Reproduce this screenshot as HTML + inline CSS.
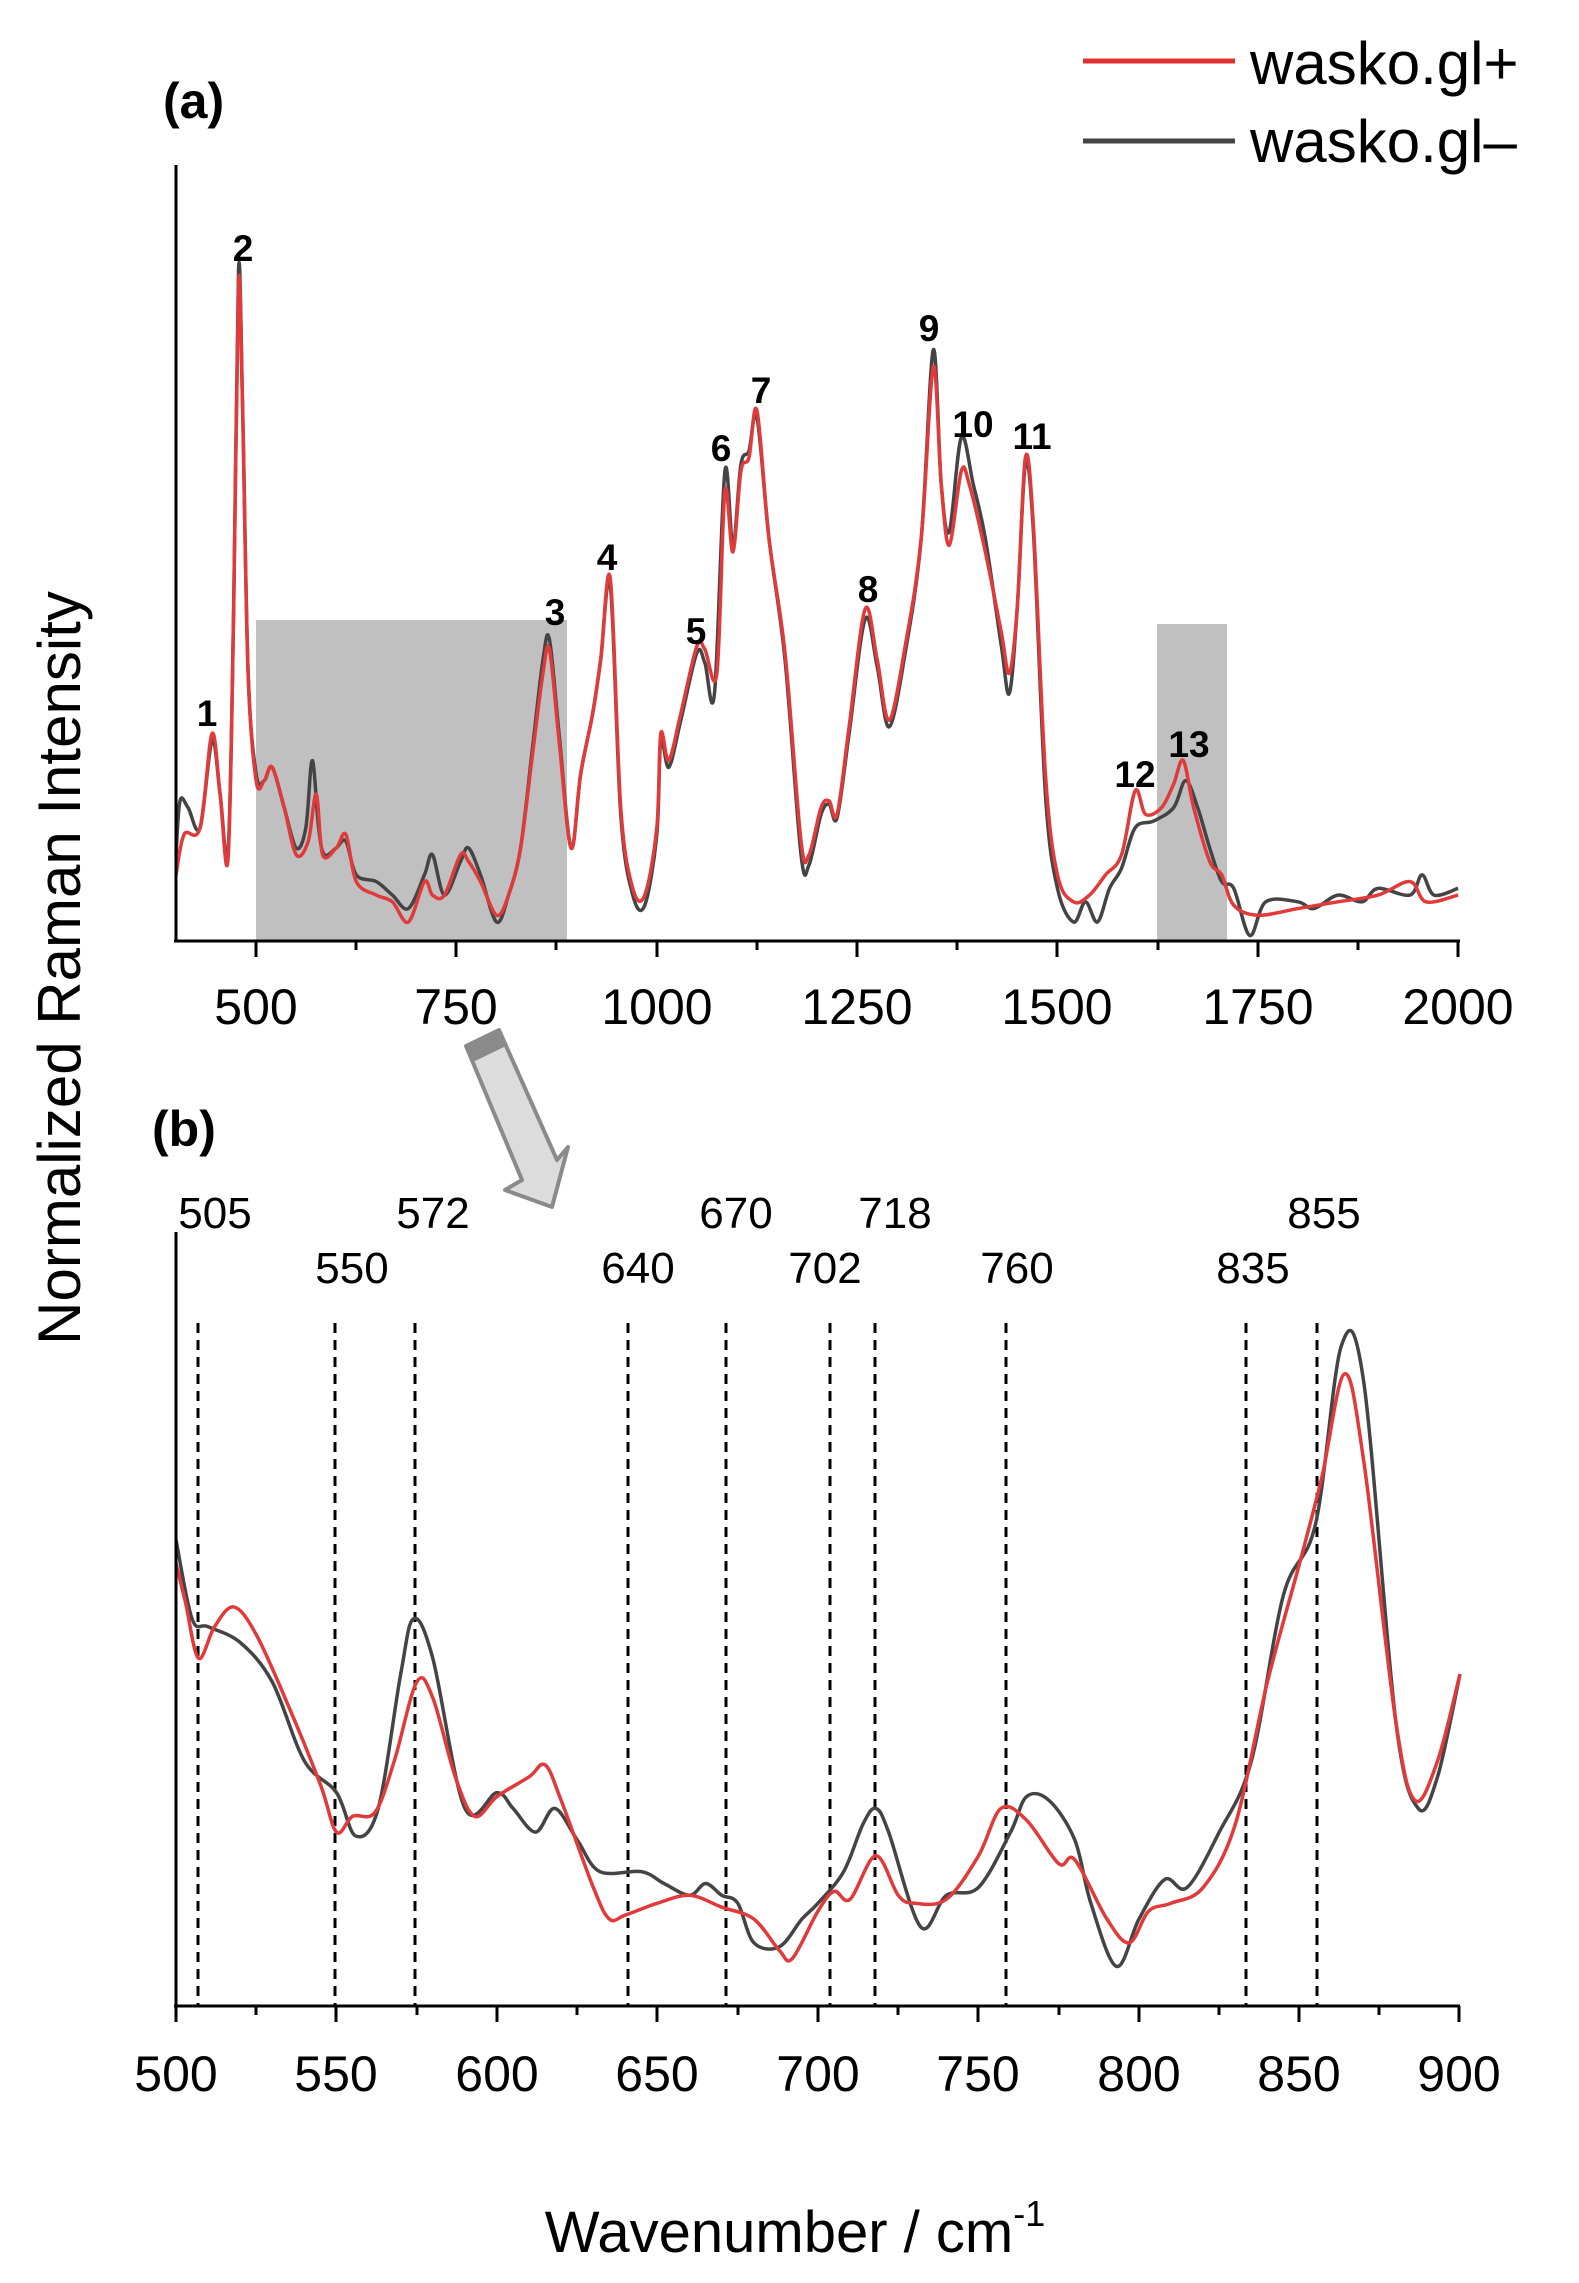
<!DOCTYPE html>
<html><head><meta charset="utf-8"><style>
html,body{margin:0;padding:0;background:#fff}
svg{display:block}
text{font-family:"Liberation Sans",sans-serif;fill:#000}
</style></head><body>
<svg id="S" width="1579" height="2283" viewBox="0 0 1579 2283" xmlns="http://www.w3.org/2000/svg">
<line x1="1083" y1="61" x2="1235" y2="61" stroke="#e03030" stroke-width="5"/>
<text x="1250" y="84" font-size="60">wasko.gl+</text>
<line x1="1083" y1="141" x2="1235" y2="141" stroke="#444" stroke-width="5"/>
<text x="1250" y="162" font-size="60">wasko.gl–</text>
<text x="163" y="118" font-size="50" font-weight="bold">(a)</text>
<text transform="translate(80,968) rotate(-90)" text-anchor="middle" font-size="60">Normalized Raman Intensity</text>

<rect x="256" y="620" width="311" height="320" fill="#c0c0c0"/>
<rect x="1157" y="624" width="70" height="316" fill="#c0c0c0"/>
<g transform="matrix(0.8013 0 0 0.673 -144.5 0)" fill="none" stroke-linejoin="round">
<polyline class="c" vector-effect="non-scaling-stroke" stroke="#444" stroke-width="3.5" points="400,1270 405,1190 415,1200 430,1230 445,1100 455,1180 465,1265 472,900 478,400 483,600 490,1000 500,1150 510,1160 520,1140 535,1200 550,1260 562,1230 570,1130 578,1230 585,1270 600,1260 612,1250 625,1300 650,1310 670,1330 690,1350 710,1300 720,1270 735,1330 755,1280 765,1260 780,1300 800,1370 815,1330 830,1260 845,1110 858,980 866,950 878,1090 893,1260 905,1150 920,1060 930,980 942,870 955,1210 970,1330 985,1345 1000,1240 1005,1100 1015,1140 1030,1070 1050,970 1060,985 1072,1030 1085,700 1095,810 1105,690 1115,670 1125,620 1140,800 1160,980 1180,1270 1190,1285 1205,1210 1215,1195 1225,1215 1240,1090 1260,920 1275,990 1290,1080 1310,970 1330,800 1345,520 1355,720 1365,790 1380,650 1395,720 1410,800 1430,960 1440,1030 1450,900 1460,690 1470,790 1485,1180 1500,1320 1520,1370 1535,1340 1550,1370 1565,1320 1580,1290 1597,1230 1620,1220 1645,1200 1660,1160 1675,1200 1690,1260 1705,1310 1720,1320 1740,1390 1760,1340 1800,1340 1820,1350 1850,1330 1880,1340 1900,1320 1940,1330 1955,1300 1970,1330 2000,1320"/>
<polyline class="c" vector-effect="non-scaling-stroke" stroke="#e03a3a" stroke-width="3.5" points="400,1300 410,1240 430,1230 445,1090 455,1180 465,1275 472,900 478,420 483,600 490,1000 500,1160 510,1160 520,1140 535,1200 550,1270 565,1250 575,1180 583,1270 600,1260 612,1240 625,1310 650,1330 670,1340 690,1370 710,1310 720,1330 735,1330 755,1270 765,1280 780,1310 800,1360 815,1330 830,1260 845,1120 858,1000 866,965 878,1100 893,1260 905,1150 920,1060 930,980 942,860 955,1200 970,1320 985,1330 1000,1230 1005,1090 1015,1130 1030,1060 1050,960 1060,965 1075,1000 1085,730 1095,820 1105,700 1115,680 1125,610 1140,800 1160,970 1180,1250 1190,1270 1205,1200 1215,1190 1225,1210 1240,1080 1260,905 1275,980 1290,1070 1310,960 1330,800 1345,545 1355,720 1365,810 1380,700 1390,720 1410,820 1430,940 1440,1000 1450,900 1460,680 1470,780 1485,1150 1500,1300 1520,1340 1540,1330 1560,1300 1580,1270 1597,1175 1610,1210 1630,1200 1645,1165 1657,1130 1670,1200 1690,1280 1705,1300 1720,1345 1750,1360 1800,1350 1850,1340 1900,1330 1940,1310 1960,1340 2000,1330"/>
</g>
<line x1="176" y1="165" x2="176" y2="941" stroke="#000" stroke-width="3"/>
<line x1="174" y1="941" x2="1460" y2="941" stroke="#000" stroke-width="3"/>
<g stroke="#000" stroke-width="3">
<line x1="256" y1="941" x2="256" y2="957"/><line x1="456" y1="941" x2="456" y2="957"/><line x1="657" y1="941" x2="657" y2="957"/><line x1="857" y1="941" x2="857" y2="957"/><line x1="1057" y1="941" x2="1057" y2="957"/><line x1="1258" y1="941" x2="1258" y2="957"/><line x1="1458" y1="941" x2="1458" y2="957"/>
<line x1="356" y1="941" x2="356" y2="950"/><line x1="556" y1="941" x2="556" y2="950"/><line x1="757" y1="941" x2="757" y2="950"/><line x1="957" y1="941" x2="957" y2="950"/><line x1="1158" y1="941" x2="1158" y2="950"/><line x1="1358" y1="941" x2="1358" y2="950"/>
</g>
<g font-size="50" text-anchor="middle">
<text x="256" y="1024">500</text><text x="456" y="1024">750</text><text x="657" y="1024">1000</text><text x="857" y="1024">1250</text><text x="1057" y="1024">1500</text><text x="1258" y="1024">1750</text><text x="1458" y="1024">2000</text>
</g>
<g font-size="37" font-weight="bold" text-anchor="middle">
<text x="207" y="726">1</text><text x="243" y="261">2</text><text x="555" y="625">3</text><text x="607" y="570">4</text><text x="696" y="644">5</text><text x="721" y="461">6</text><text x="761" y="403">7</text><text x="868" y="602">8</text><text x="929" y="341">9</text><text x="973" y="437">10</text><text x="1032" y="449">11</text><text x="1135" y="787">12</text><text x="1189" y="757">13</text>
</g>

<polygon points="466,1046 499,1030 557,1160 568,1147 552,1207 505,1190 522,1180" fill="#dcdcdc" stroke="#8a8a8a" stroke-width="4" stroke-linejoin="round"/>
<polygon points="466,1046 499,1030 506,1046 473,1062" fill="#8a8a8a"/>

<text x="152" y="1146" font-size="50" font-weight="bold">(b)</text>
<g font-size="44" text-anchor="middle">
<text x="215" y="1228">505</text><text x="433" y="1228">572</text><text x="736" y="1228">670</text><text x="895" y="1228">718</text><text x="1324" y="1228">855</text>
<text x="352" y="1283">550</text><text x="638" y="1283">640</text><text x="825" y="1283">702</text><text x="1017" y="1283">760</text><text x="1253" y="1283">835</text>
</g>
<g stroke="#000" stroke-width="3" stroke-dasharray="10,7">
<line x1="198" y1="1323" x2="198" y2="2006"/><line x1="335" y1="1323" x2="335" y2="2006"/><line x1="415" y1="1323" x2="415" y2="2006"/><line x1="628" y1="1323" x2="628" y2="2006"/><line x1="726" y1="1323" x2="726" y2="2006"/><line x1="830" y1="1323" x2="830" y2="2006"/><line x1="875" y1="1323" x2="875" y2="2006"/><line x1="1006" y1="1323" x2="1006" y2="2006"/><line x1="1246" y1="1323" x2="1246" y2="2006"/><line x1="1317" y1="1323" x2="1317" y2="2006"/>
</g>
<g transform="matrix(3.21 0 0 0.79 -1429 1050)" fill="none" stroke-linejoin="round">
<polyline class="c" vector-effect="non-scaling-stroke" stroke="#444" stroke-width="3.5" points="500,620 505,720 510,730 520,750 530,800 540,900 550,940 556,995 563,960 570,790 574,720 580,770 590,960 600,940 605,960 612,990 618,960 625,1000 632,1040 645,1040 652,1055 660,1070 665,1055 670,1070 675,1080 680,1130 688,1135 695,1100 700,1080 708,1040 714,980 718,960 722,990 732,1110 740,1070 750,1060 760,990 765,945 772,950 780,1000 785,1080 793,1160 800,1100 808,1050 815,1060 825,990 835,900 845,690 855,600 863,375 870,420 880,850 887,960 893,920 900,790"/>
<polyline class="c" vector-effect="non-scaling-stroke" stroke="#e03a3a" stroke-width="3.5" points="500,650 503,700 507,770 512,730 518,705 525,740 535,830 545,930 550,990 555,970 562,965 568,900 575,800 580,820 587,920 593,970 600,945 610,920 615,905 620,950 630,1060 635,1100 640,1095 650,1080 660,1070 670,1085 680,1100 688,1140 692,1150 700,1090 705,1065 710,1075 718,1020 725,1070 730,1080 740,1075 750,1020 757,960 765,975 775,1030 780,1025 790,1100 797,1130 803,1090 810,1080 820,1060 830,980 840,800 850,650 857,540 864,410 870,520 880,850 886,950 893,900 900,790"/>
</g>
<line x1="176" y1="1232" x2="176" y2="2006" stroke="#000" stroke-width="3"/>
<line x1="174" y1="2006" x2="1460" y2="2006" stroke="#000" stroke-width="3"/>
<g stroke="#000" stroke-width="3">
<line x1="176" y1="2006" x2="176" y2="2022"/><line x1="336" y1="2006" x2="336" y2="2022"/><line x1="497" y1="2006" x2="497" y2="2022"/><line x1="657" y1="2006" x2="657" y2="2022"/><line x1="818" y1="2006" x2="818" y2="2022"/><line x1="978" y1="2006" x2="978" y2="2022"/><line x1="1139" y1="2006" x2="1139" y2="2022"/><line x1="1299" y1="2006" x2="1299" y2="2022"/><line x1="1459" y1="2006" x2="1459" y2="2022"/>
<line x1="256" y1="2006" x2="256" y2="2015"/><line x1="417" y1="2006" x2="417" y2="2015"/><line x1="577" y1="2006" x2="577" y2="2015"/><line x1="738" y1="2006" x2="738" y2="2015"/><line x1="898" y1="2006" x2="898" y2="2015"/><line x1="1059" y1="2006" x2="1059" y2="2015"/><line x1="1219" y1="2006" x2="1219" y2="2015"/><line x1="1379" y1="2006" x2="1379" y2="2015"/>
</g>
<g font-size="50" text-anchor="middle">
<text x="176" y="2091">500</text><text x="336" y="2091">550</text><text x="497" y="2091">600</text><text x="657" y="2091">650</text><text x="818" y="2091">700</text><text x="978" y="2091">750</text><text x="1139" y="2091">800</text><text x="1299" y="2091">850</text><text x="1459" y="2091">900</text>
</g>
<text x="795" y="2252" font-size="58" text-anchor="middle">Wavenumber / cm<tspan font-size="36" dy="-26">-1</tspan></text>
</svg>
<script>
(function(){
var NS="http://www.w3.org/2000/svg";
var pls=document.querySelectorAll("polyline.c");
for(var k=0;k<pls.length;k++){
 var pl=pls[k];
 var p=pl.getAttribute("points").trim().split(/\s+/).map(function(s){var a=s.split(",");return [+a[0],+a[1]];});
 var d="M"+p[0][0]+","+p[0][1];
 for(var i=0;i<p.length-1;i++){
  var p0=p[i>0?i-1:i],p1=p[i],p2=p[i+1],p3=p[i+2<p.length?i+2:i+1];
  var t=0.5/3;
  var c1x=p1[0]+(p2[0]-p0[0])*t,c1y=p1[1]+(p2[1]-p0[1])*t;
  var c2x=p2[0]-(p3[0]-p1[0])*t,c2y=p2[1]-(p3[1]-p1[1])*t;
  if(c1x>p2[0])c1x=p2[0]; if(c2x<p1[0])c2x=p1[0];
  d+=" C"+c1x+","+c1y+" "+c2x+","+c2y+" "+p2[0]+","+p2[1];
 }
 var path=document.createElementNS(NS,"path");
 ["vector-effect","stroke","stroke-width"].forEach(function(a){path.setAttribute(a,pl.getAttribute(a));});
 path.setAttribute("d",d);
 pl.parentNode.replaceChild(path,pl);
}
})();
</script>
</body></html>
